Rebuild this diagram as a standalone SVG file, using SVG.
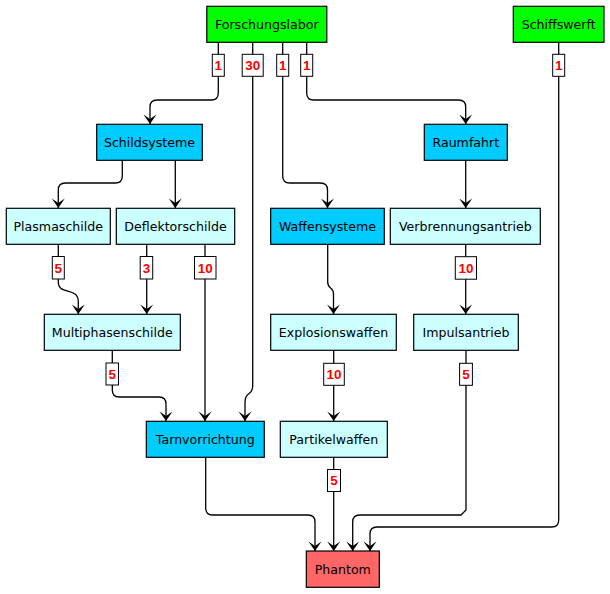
<svg xmlns="http://www.w3.org/2000/svg" width="610" height="594" viewBox="0 0 610 594">
<style>
.n rect{stroke:#000;stroke-width:1.2}
.n text{font-family:"DejaVu Sans",sans-serif;font-size:12.6px;fill:#000;text-anchor:middle}
.g{fill:#00ff00}.b{fill:#00ccff}.c{fill:#ccffff}.r{fill:#ff6666}
#edges path{fill:none;stroke:#000;stroke-width:1.3;marker-end:url(#arr)}
.lb rect{fill:#fff;stroke:#000;stroke-width:1}
.lb text{font-family:"Liberation Sans",Arial,sans-serif;font-size:13.5px;font-weight:bold;fill:#ff0000;text-anchor:middle}
</style>
<defs>
<marker id="arr" markerUnits="userSpaceOnUse" viewBox="-10 -7 11 14" markerWidth="11" markerHeight="14" refX="0" refY="0" orient="auto">
<path d="M0,0 L-9.5,-6.5 L-5,0 L-9.5,6.5 Z" fill="#000"/>
</marker>
</defs>
<rect width="610" height="594" fill="#fff"/>
<g id="edges">
<path d="M218.3,42 V93 Q218.3,100 211.3,100 H157 Q150,100 150,107 V124"/>
<path d="M252.7,42 V386 C252.7,396 245,391 245,402 V421"/>
<path d="M282.7,42 V176 Q282.7,183 289.7,183 H320.5 Q327.5,183 327.5,190 V208"/>
<path d="M306.7,42 V93 Q306.7,100 313.7,100 H458.7 Q465.7,100 465.7,107 V124"/>
<path d="M558.7,42 V520 Q558.7,527 551.7,527 H377 Q370,527 370,534 V551"/>
<path d="M122.3,160 V176 Q122.3,183 115.3,183 H65.3 Q58.3,183 58.3,190 V208"/>
<path d="M175.3,160 V208"/>
<path d="M465.7,160 V208"/>
<path d="M58.3,244 V282 C58.3,296 78.3,286 78.3,302 V314"/>
<path d="M146.7,244 V314"/>
<path d="M205,244 V421"/>
<path d="M327.7,244 V282 C327.7,290 333.5,286 333.5,294 V314"/>
<path d="M465.7,244 V314"/>
<path d="M112.3,350 V390 Q112.3,397 119.3,397 H159 Q166,397 166,404 V421"/>
<path d="M333.7,350 V421"/>
<path d="M466,350 V510 L461,515 H359.7 Q352.7,515 352.7,522 V551"/>
<path d="M205.7,457 V508 Q205.7,515 212.7,515 H308 Q315,515 315,522 V551"/>
<path d="M333.7,457 V551"/>
</g>
<g id="labels" class="lb">
<rect x="212.3" y="54.3" width="12" height="22"/><text x="218.3" y="70.2">1</text>
<rect x="242.2" y="54.3" width="21" height="22"/><text x="252.7" y="70.2">30</text>
<rect x="276.7" y="54.3" width="12" height="22"/><text x="282.7" y="70.2">1</text>
<rect x="300.7" y="54.3" width="12" height="22"/><text x="306.7" y="70.2">1</text>
<rect x="552.7" y="54.3" width="12" height="22"/><text x="558.7" y="70.2">1</text>
<rect x="52.3" y="256.5" width="12" height="22.5"/><text x="58.3" y="272.7">5</text>
<rect x="140.2" y="256.5" width="12.5" height="22.5"/><text x="146.5" y="272.7">3</text>
<rect x="194.5" y="256.5" width="21.5" height="22.5"/><text x="205.2" y="272.7">10</text>
<rect x="455.3" y="256.7" width="21.2" height="22.5"/><text x="465.9" y="272.9">10</text>
<rect x="106" y="363" width="12.5" height="22"/><text x="112.3" y="378.9">5</text>
<rect x="323.7" y="363.3" width="20.6" height="22"/><text x="334" y="379.2">10</text>
<rect x="459.6" y="363.3" width="12.8" height="22"/><text x="466" y="379.2">5</text>
<rect x="327.5" y="469.5" width="13" height="22"/><text x="334" y="485.4">5</text>
</g>
<g id="n-forschungslabor" class="n"><rect class="g" x="206.8" y="6.3" width="120" height="36"/><text x="266.8" y="29.4">Forschungslabor</text></g>
<g id="n-schiffswerft" class="n"><rect class="g" x="513.3" y="6.3" width="90.7" height="36"/><text x="558.7" y="29.4">Schiffswerft</text></g>
<g id="n-schildsysteme" class="n"><rect class="b" x="96.7" y="124.3" width="105.6" height="36"/><text x="149.5" y="147.4">Schildsysteme</text></g>
<g id="n-raumfahrt" class="n"><rect class="b" x="424.3" y="124.3" width="83" height="36"/><text x="465.8" y="147.4">Raumfahrt</text></g>
<g id="n-plasmaschilde" class="n"><rect class="c" x="6.3" y="208.3" width="104" height="36"/><text x="58.3" y="231.4">Plasmaschilde</text></g>
<g id="n-deflektorschilde" class="n"><rect class="c" x="116.3" y="208.3" width="118.4" height="36"/><text x="175.5" y="231.4">Deflektorschilde</text></g>
<g id="n-waffensysteme" class="n"><rect class="b" x="270.7" y="208.3" width="113.6" height="36"/><text x="327.5" y="231.4">Waffensysteme</text></g>
<g id="n-verbrennungsantrieb" class="n"><rect class="c" x="390.3" y="208.3" width="150" height="36"/><text x="465.3" y="231.4">Verbrennungsantrieb</text></g>
<g id="n-multiphasenschilde" class="n"><rect class="c" x="44.3" y="314.3" width="136" height="36"/><text x="112.3" y="337.4">Multiphasenschilde</text></g>
<g id="n-explosionswaffen" class="n"><rect class="c" x="270.7" y="314.3" width="125.6" height="36"/><text x="333.5" y="337.4">Explosionswaffen</text></g>
<g id="n-impulsantrieb" class="n"><rect class="c" x="413.7" y="314.3" width="104.6" height="36"/><text x="466" y="337.4">Impulsantrieb</text></g>
<g id="n-tarnvorrichtung" class="n"><rect class="b" x="146.3" y="421.3" width="118" height="36"/><text x="205.3" y="444.4">Tarnvorrichtung</text></g>
<g id="n-partikelwaffen" class="n"><rect class="c" x="280.3" y="421.3" width="107" height="36"/><text x="333.8" y="444.4">Partikelwaffen</text></g>
<g id="n-phantom" class="n"><rect class="r" x="306.3" y="551" width="73" height="36.3"/><text x="342.8" y="574.2">Phantom</text></g>
</svg>
